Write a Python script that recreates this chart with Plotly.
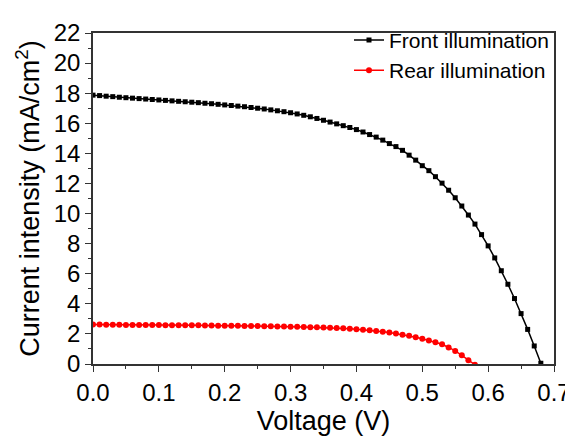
import plotly.graph_objects as go

# Front illumination J-V data (V in volts, J in mA/cm2)
front_v = [round(i * 0.01, 2) for i in range(69)]
front_j = [17.87, 17.84, 17.80, 17.77, 17.73, 17.70, 17.67, 17.64, 17.61, 17.58,
           17.55, 17.52, 17.49, 17.46, 17.43, 17.40, 17.37, 17.33, 17.30, 17.26,
           17.22, 17.18, 17.14, 17.10, 17.05, 17.00, 16.95, 16.89, 16.83, 16.77,
           16.70, 16.62, 16.53, 16.43, 16.32, 16.20, 16.08, 15.96, 15.84, 15.72,
           15.58, 15.42, 15.25, 15.08, 14.88, 14.65, 14.45, 14.20, 13.88, 13.55,
           13.18, 12.85, 12.45, 12.02, 11.55, 11.05, 10.50, 9.90, 9.30, 8.60,
           7.85, 7.05, 6.20, 5.30, 4.35, 3.35, 2.30, 1.20, 0.05]

# Rear illumination J-V data
rear_v = [round(i * 0.01, 2) for i in range(59)]
rear_j = [2.62, 2.62, 2.61, 2.61, 2.61, 2.60, 2.60, 2.60, 2.59, 2.59,
          2.59, 2.58, 2.58, 2.58, 2.57, 2.57, 2.57, 2.56, 2.56, 2.55,
          2.55, 2.54, 2.54, 2.53, 2.53, 2.52, 2.51, 2.51, 2.50, 2.49,
          2.48, 2.47, 2.46, 2.45, 2.44, 2.43, 2.41, 2.39, 2.37, 2.34,
          2.31, 2.28, 2.24, 2.20, 2.15, 2.09, 2.02, 1.95, 1.87, 1.78,
          1.68, 1.57, 1.45, 1.31, 1.10, 0.87, 0.58, 0.25, -0.05]

x_ticks = [0.0, 0.1, 0.2, 0.3, 0.4, 0.5, 0.6, 0.7]
x_tick_labels = ["0.0", "0.1", "0.2", "0.3", "0.4", "0.5", "0.6", "0.7"]
y_ticks = [0, 2, 4, 6, 8, 10, 12, 14, 16, 18, 20, 22]

FONT = "Liberation Sans, Arial, sans-serif"

fig = go.Figure()
fig.add_trace(go.Scatter(
    x=front_v, y=front_j, mode="lines+markers", name="Front illumination",
    line=dict(color="black", width=1.5),
    marker=dict(symbol="square", size=5, color="black"),
))
fig.add_trace(go.Scatter(
    x=rear_v, y=rear_j, mode="lines+markers", name="Rear illumination",
    line=dict(color="#ff0000", width=1.5),
    marker=dict(symbol="circle", size=6, color="#ff0000"),
))

axis_common = dict(
    showline=True, linecolor="#333333", linewidth=1.5, mirror=True,
    ticks="outside", ticklen=6, tickwidth=1.2, tickcolor="#333333",
    showgrid=False, zeroline=False, automargin=False,
    tickfont=dict(family=FONT, size=24, color="black"),
)

fig.update_xaxes(
    range=[0, 0.7], tickvals=x_ticks, ticktext=x_tick_labels,
    title=dict(text="Voltage (V)", font=dict(family=FONT, size=27, color="black"), standoff=2),
    minor=dict(ticks="outside", ticklen=3, dtick=0.05, tickcolor="#333333", tickwidth=1),
    **axis_common,
)
fig.update_yaxes(
    range=[0, 22], tickvals=y_ticks,
    title=dict(text="Current intensity (mA/cm<sup>2</sup>)", font=dict(family=FONT, size=27, color="black"), standoff=6),
    minor=dict(ticks="outside", ticklen=3, dtick=1, tickcolor="#333333", tickwidth=1),
    **axis_common,
)

# page body has an 8px margin, so the figure is sized/offset to compensate
fig.update_layout(
    width=565, height=430,
    margin=dict(l=85, r=19, t=18, b=74),
    paper_bgcolor="white", plot_bgcolor="white",
    showlegend=True,
    legend=dict(
        x=1, y=1.04, xanchor="right", yanchor="top",
        bgcolor="rgba(0,0,0,0)", borderwidth=0,
        font=dict(family=FONT, size=21, color="black"),
        tracegroupgap=0, itemwidth=30,
    ),
)

fig.write_html("out.html")
